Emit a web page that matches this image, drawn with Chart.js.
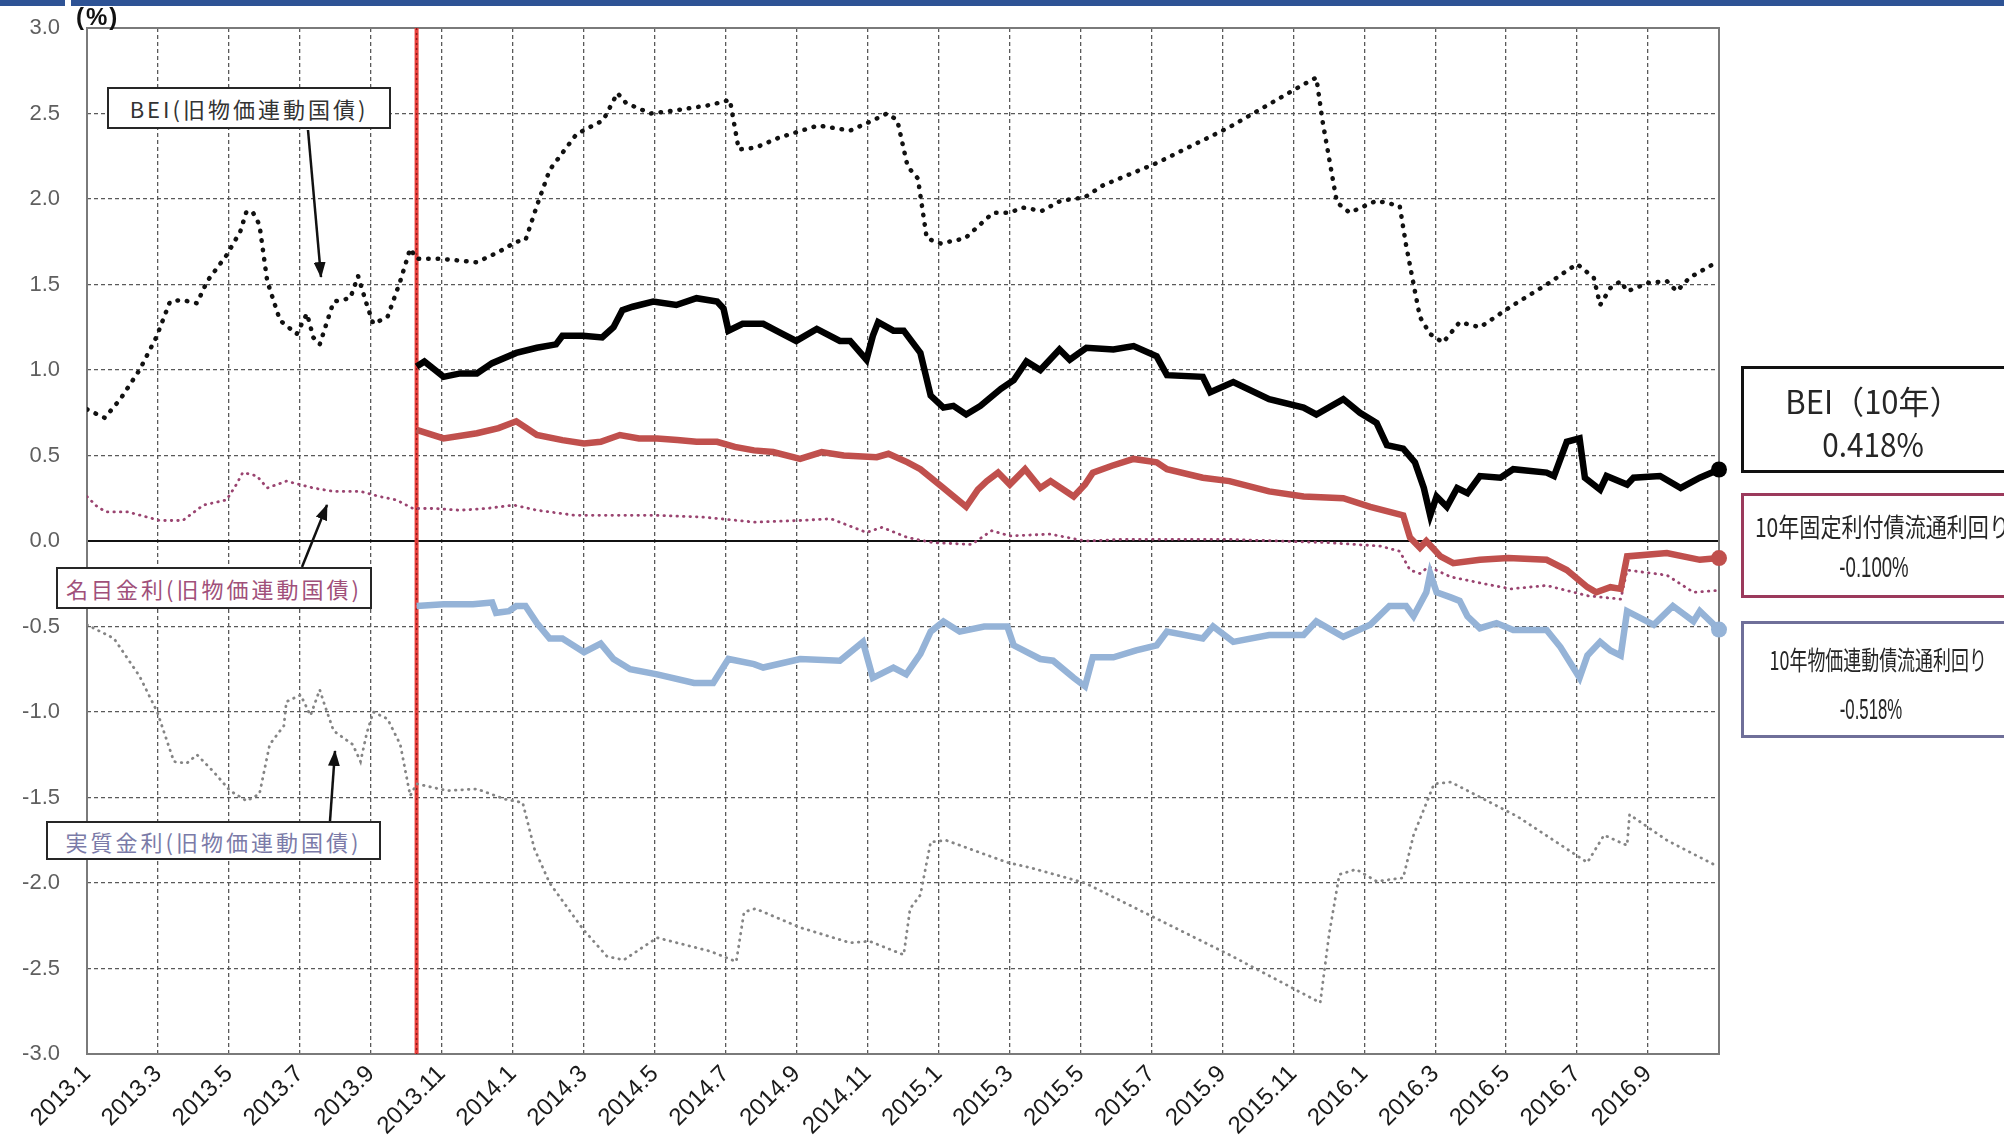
<!DOCTYPE html>
<html><head><meta charset="utf-8">
<script src="https://cdn.jsdelivr.net/npm/chart.js@4.4.1/dist/chart.umd.min.js"></script>
<style>
html,body{margin:0;padding:0;background:#fff;overflow:hidden;}
#wrap{position:relative;width:2004px;height:1147px;overflow:hidden;background:#fff;}
#c{position:absolute;left:0;top:0;}
.band{position:absolute;top:0;height:6px;background:#2E5395;}
.box{position:absolute;background:#fff;box-sizing:border-box;font-family:"Noto Sans CJK JP","Noto Sans",sans-serif;}
.lbox{border:2.5px solid #262626;display:flex;align-items:center;justify-content:center;white-space:nowrap;font-size:22px;letter-spacing:3px;}
.rbox{border:3.5px solid #111;color:#262626;}
.line{position:absolute;left:0;width:100%;text-align:center;white-space:nowrap;transform-origin:50% 50%;line-height:1;}
.val{font-family:"Liberation Sans",Arial,sans-serif;}
#pct{position:absolute;left:76px;top:5px;font-family:"Liberation Sans",Arial,sans-serif;font-size:24px;font-weight:bold;color:#111;letter-spacing:2px;line-height:1;}
svg{position:absolute;left:0;top:0;}
</style></head><body>
<div id="wrap">
<canvas id="c" width="2004" height="1147"></canvas>
<div class="band" style="left:0;width:65px"></div>
<div class="band" style="left:71px;width:1933px"></div>
<div id="pct">(%)</div>

<div class="box lbox" style="left:107px;top:87px;width:284px;height:42px;color:#333;">BEI(旧物価連動国債)</div>
<div class="box lbox" style="left:56px;top:567px;width:316px;height:42px;color:#a0507a;">名目金利(旧物価連動国債)</div>
<div class="box lbox" style="left:46px;top:821px;width:335px;height:39px;color:#7b7ba8;">実質金利(旧物価連動国債)</div>

<div class="box rbox" style="left:1741px;top:366px;width:300px;height:107px;border-color:#111;">
  <div class="line" style="top:15px;left:-18px;font-size:32px;transform:scaleX(0.97)">BEI（10年）</div>
  <div class="line" style="top:58px;left:-18px;font-size:33px;transform:scaleX(0.9)">0.418%</div>
</div>
<div class="box rbox" style="left:1741px;top:493px;width:300px;height:105px;border-color:#9b3a5c;">
  <div class="line" style="top:17px;left:-17px;font-size:26px;transform:scaleX(0.81)">10年固定利付債流通利回り</div>
  <div class="line val" style="top:56px;left:-17px;font-size:30px;transform:scaleX(0.62)">-0.100%</div>
</div>
<div class="box rbox" style="left:1741px;top:621px;width:300px;height:117px;border-color:#6f6f99;">
  <div class="line" style="top:22px;left:-20px;font-size:26px;transform:scaleX(0.69)">10年物価連動債流通利回り</div>
  <div class="line val" style="top:70px;left:-20px;font-size:30px;transform:scaleX(0.56)">-0.518%</div>
</div>

<svg width="2004" height="1147">
  <defs><marker id="ah" markerWidth="16" markerHeight="12" refX="15" refY="6" orient="auto" markerUnits="userSpaceOnUse"><path d="M0,0 L16,6 L0,12 z" fill="#111"/></marker></defs>
  <line x1="308" y1="130" x2="321" y2="277" stroke="#111" stroke-width="2.5" marker-end="url(#ah)"/>
  <line x1="302" y1="567" x2="327" y2="505" stroke="#111" stroke-width="2.5" marker-end="url(#ah)"/>
  <line x1="330" y1="821" x2="335" y2="751" stroke="#111" stroke-width="2.5" marker-end="url(#ah)"/>
</svg>
</div>
<script>
// x values: months since 2013.1 (0 = 2013.1, 46 = 2016.11)
const xTickLabels = ['2013.1','2013.3','2013.5','2013.7','2013.9','2013.11','2014.1','2014.3','2014.5','2014.7','2014.9','2014.11','2015.1','2015.3','2015.5','2015.7','2015.9','2015.11','2016.1','2016.3','2016.5','2016.7','2016.9'];
const jgbiStart = 9.29; // new inflation-indexed JGB (2013.10)

// BEI(旧物価連動国債)
const beiOldT = [0.00,0.50,0.94,1.48,1.95,2.34,2.67,3.10,3.39,3.93,4.32,4.50,4.68,4.86,5.08,5.44,5.91,6.20,6.38,6.56,6.95,7.42,7.64,7.89,8.07,8.47,8.83,9.11,9.29,9.98,10.99,11.60,12.10,12.36,12.68,13.04,13.80,14.55,14.95,15.20,15.89,16.64,17.58,18.12,18.37,18.84,19.52,20.61,21.51,22.05,22.55,22.84,23.13,23.42,23.67,24.06,24.75,25.54,26.01,26.37,26.91,27.45,28.13,28.64,30.15,32.20,34.29,34.65,34.83,35.23,35.59,36.35,37.00,37.18,37.43,37.57,37.86,38.22,38.69,39.26,40.20,41.14,42.00,42.47,42.65,42.94,43.23,43.41,44.02,44.53,44.81,45.17,45.93];
const beiOldV = [0.77,0.72,0.83,1.00,1.19,1.40,1.41,1.39,1.52,1.67,1.81,1.93,1.92,1.85,1.52,1.29,1.21,1.33,1.19,1.15,1.40,1.42,1.55,1.38,1.27,1.31,1.52,1.71,1.65,1.65,1.63,1.69,1.75,1.76,1.96,2.17,2.38,2.46,2.62,2.56,2.50,2.52,2.55,2.58,2.29,2.30,2.36,2.43,2.40,2.45,2.50,2.46,2.19,2.12,1.77,1.74,1.77,1.92,1.92,1.95,1.93,1.99,2.01,2.08,2.21,2.42,2.67,2.71,2.45,1.98,1.92,1.99,1.96,1.73,1.46,1.31,1.21,1.16,1.28,1.25,1.38,1.50,1.62,1.54,1.38,1.48,1.52,1.46,1.51,1.52,1.46,1.54,1.63];

// 名目金利(旧物価連動国債)
const nomOldT = [0.00,0.29,0.54,1.15,2.05,2.70,3.28,3.93,4.18,4.39,4.61,4.79,5.08,5.62,6.38,6.95,7.71,8.25,8.72,9.19,9.80,10.52,11.24,12.03,12.68,13.76,14.84,16.07,17.36,18.84,20.10,20.97,21.97,22.41,23.13,23.85,24.93,25.50,26.01,27.16,28.13,29.25,30.69,32.13,33.57,35.01,36.46,37.00,37.29,37.57,37.82,38.44,39.38,40.13,41.14,42.29,43.23,43.41,44.53,45.28,45.93];
const nomOldV = [0.26,0.20,0.17,0.17,0.12,0.12,0.21,0.24,0.32,0.40,0.39,0.38,0.31,0.35,0.31,0.29,0.29,0.26,0.24,0.19,0.19,0.18,0.19,0.21,0.18,0.15,0.15,0.15,0.14,0.11,0.12,0.13,0.05,0.08,0.02,-0.01,-0.02,0.06,0.03,0.04,0.00,0.01,0.01,0.01,0.00,-0.01,-0.03,-0.06,-0.17,-0.19,-0.15,-0.21,-0.25,-0.28,-0.26,-0.32,-0.34,-0.17,-0.20,-0.30,-0.29];

// 実質金利(旧物価連動国債)
const realOldT = [0.00,0.76,1.48,1.98,2.45,2.81,3.10,3.57,4.03,4.50,4.86,5.15,5.55,5.62,6.02,6.30,6.56,6.70,6.95,7.49,7.71,7.89,8.07,8.47,8.83,9.11,9.29,10.16,10.99,11.78,12.28,12.61,13.04,13.98,14.66,15.13,16.07,17.58,18.30,18.52,18.84,20.10,21.51,22.05,23.02,23.20,23.49,23.78,24.21,25.94,26.58,28.13,32.20,34.76,35.01,35.30,35.77,36.35,37.10,37.39,37.97,38.44,40.31,42.29,42.76,43.41,43.48,44.53,45.93];
const realOldV = [-0.49,-0.57,-0.79,-1.00,-1.29,-1.30,-1.25,-1.35,-1.46,-1.52,-1.48,-1.19,-1.08,-0.94,-0.90,-1.02,-0.87,-0.96,-1.11,-1.19,-1.29,-1.12,-1.00,-1.04,-1.19,-1.49,-1.42,-1.46,-1.45,-1.51,-1.53,-1.80,-2.00,-2.27,-2.43,-2.45,-2.32,-2.40,-2.46,-2.17,-2.15,-2.26,-2.35,-2.34,-2.42,-2.15,-2.07,-1.76,-1.75,-1.88,-1.91,-2.00,-2.42,-2.70,-2.30,-1.95,-1.92,-1.99,-1.97,-1.72,-1.42,-1.41,-1.61,-1.88,-1.72,-1.78,-1.60,-1.75,-1.90];

// BEI(10年)
const bei10T = [9.29,9.51,10.05,10.52,10.99,11.42,12.10,12.68,13.22,13.40,13.98,14.52,14.84,15.09,15.38,15.96,16.61,17.18,17.76,17.94,18.08,18.48,19.06,19.52,19.99,20.57,21.22,21.51,21.97,22.15,22.30,22.73,23.02,23.49,23.78,24.14,24.42,24.78,25.18,25.76,26.12,26.48,26.87,27.41,27.70,28.17,28.93,29.50,30.15,30.44,31.45,31.66,32.31,33.32,34.29,34.65,35.41,35.88,36.35,36.64,37.10,37.43,37.68,37.86,38.04,38.33,38.62,38.91,39.26,39.84,40.20,41.14,41.35,41.71,42.07,42.22,42.65,42.83,43.41,43.59,44.34,44.92,45.46,46.00];
const bei10V = [1.02,1.05,0.96,0.98,0.98,1.04,1.10,1.13,1.15,1.20,1.20,1.19,1.25,1.35,1.37,1.40,1.38,1.42,1.40,1.36,1.23,1.27,1.27,1.22,1.17,1.24,1.17,1.17,1.06,1.20,1.28,1.23,1.23,1.10,0.85,0.78,0.79,0.74,0.79,0.89,0.94,1.05,1.00,1.12,1.06,1.13,1.12,1.14,1.08,0.97,0.96,0.87,0.93,0.83,0.78,0.74,0.83,0.75,0.69,0.56,0.54,0.46,0.31,0.15,0.26,0.20,0.31,0.28,0.38,0.37,0.42,0.40,0.38,0.58,0.60,0.37,0.30,0.38,0.33,0.37,0.38,0.31,0.37,0.418];

// 10年固定利付債流通利回り
const nom10T = [9.29,10.05,10.99,11.60,12.10,12.68,13.40,14.01,14.48,15.02,15.56,16.07,16.64,17.18,17.76,18.26,18.80,19.34,20.10,20.71,21.33,22.26,22.59,23.13,23.49,24.14,24.78,25.11,25.36,25.68,26.01,26.44,26.87,27.16,27.81,28.13,28.35,28.89,29.50,30.15,30.44,31.45,32.20,33.32,34.29,35.41,36.17,37.10,37.29,37.57,37.75,38.15,38.51,39.26,40.06,41.14,41.71,42.29,42.54,42.94,43.23,43.41,44.53,45.46,46.00];
const nom10V = [0.65,0.60,0.63,0.66,0.70,0.62,0.59,0.57,0.58,0.62,0.60,0.60,0.59,0.58,0.58,0.55,0.53,0.52,0.48,0.52,0.50,0.49,0.51,0.46,0.42,0.31,0.20,0.30,0.35,0.40,0.33,0.42,0.31,0.35,0.26,0.33,0.40,0.44,0.48,0.46,0.42,0.37,0.35,0.29,0.26,0.25,0.20,0.15,0.02,-0.04,0.00,-0.09,-0.13,-0.11,-0.10,-0.11,-0.17,-0.27,-0.30,-0.27,-0.28,-0.09,-0.07,-0.11,-0.10];

// 10年物価連動債流通利回り
const real10T = [9.29,10.05,10.88,11.42,11.53,11.89,12.10,12.36,12.68,13.04,13.40,14.01,14.48,14.84,15.31,16.07,17.11,17.65,18.08,18.80,19.06,20.10,21.22,21.87,22.15,22.73,23.09,23.49,23.78,24.14,24.60,25.29,25.94,26.12,26.87,27.23,27.81,28.13,28.35,28.93,29.57,30.15,30.44,31.45,31.74,32.31,33.32,34.29,34.65,35.41,36.17,36.71,37.18,37.39,37.75,37.86,38.04,38.44,38.69,38.91,39.26,39.73,40.20,41.14,41.53,42.07,42.29,42.65,42.94,43.23,43.41,44.16,44.70,45.28,45.46,46.00];
const real10V = [-0.38,-0.37,-0.37,-0.36,-0.42,-0.41,-0.38,-0.38,-0.48,-0.57,-0.57,-0.65,-0.60,-0.69,-0.75,-0.78,-0.83,-0.83,-0.69,-0.72,-0.74,-0.69,-0.70,-0.59,-0.80,-0.74,-0.78,-0.66,-0.53,-0.47,-0.53,-0.50,-0.50,-0.61,-0.69,-0.70,-0.80,-0.85,-0.68,-0.68,-0.64,-0.61,-0.53,-0.57,-0.50,-0.59,-0.55,-0.55,-0.47,-0.56,-0.49,-0.38,-0.38,-0.44,-0.30,-0.19,-0.30,-0.33,-0.35,-0.44,-0.51,-0.48,-0.52,-0.52,-0.62,-0.80,-0.67,-0.59,-0.64,-0.67,-0.41,-0.49,-0.38,-0.47,-0.41,-0.518];

const pts = (t, v) => t.map((x, i) => ({x, y: v[i]}));
const endDot = (ctx) => ctx.dataIndex === ctx.dataset.data.length - 1 ? 8 : 0;

const decor = {
  id: 'decor',
  beforeDatasetsDraw(chart) {
    const {ctx, chartArea: a, scales: {x, y}} = chart;
    ctx.save();
    const y0 = y.getPixelForValue(0);
    ctx.strokeStyle = '#111'; ctx.lineWidth = 2.2; ctx.setLineDash([]);
    ctx.beginPath(); ctx.moveTo(a.left, y0); ctx.lineTo(a.right, y0); ctx.stroke();
    ctx.strokeStyle = '#7a7a7a'; ctx.lineWidth = 2;
    ctx.strokeRect(a.left, a.top, a.right - a.left, a.bottom - a.top);
    const xr = x.getPixelForValue(jgbiStart);
    ctx.strokeStyle = '#e8403c'; ctx.lineWidth = 4;
    ctx.beginPath(); ctx.moveTo(xr, a.top); ctx.lineTo(xr, a.bottom); ctx.stroke();
    ctx.strokeStyle = '#8a1a1a'; ctx.lineWidth = 1.4; ctx.setLineDash([2, 3]);
    ctx.beginPath(); ctx.moveTo(xr, a.top); ctx.lineTo(xr, a.bottom); ctx.stroke();
    ctx.restore();
  }
};

Chart.defaults.font.family = "'Liberation Sans', Arial, sans-serif";

new Chart(document.getElementById('c'), {
  type: 'line',
  data: {
    datasets: [
      {label: 'BEI(10年)', data: pts(bei10T, bei10V), borderColor: '#000', backgroundColor: '#000', borderWidth: 6.5, pointRadius: endDot, pointBackgroundColor: '#000', pointBorderWidth: 0, tension: 0, clip: 12},
      {label: '10年固定利付債流通利回り', data: pts(nom10T, nom10V), borderColor: '#c0504d', backgroundColor: '#c0504d', borderWidth: 6.5, pointRadius: endDot, pointBackgroundColor: '#c0504d', pointBorderWidth: 0, tension: 0, clip: 12},
      {label: '10年物価連動債流通利回り', data: pts(real10T, real10V), borderColor: '#95b3d7', backgroundColor: '#95b3d7', borderWidth: 6.5, pointRadius: endDot, pointBackgroundColor: '#95b3d7', pointBorderWidth: 0, tension: 0, clip: 12},
      {label: 'BEI(旧物価連動国債)', data: pts(beiOldT, beiOldV), borderColor: '#111', borderWidth: 4.5, borderDash: [0.5, 9], borderCapStyle: 'round', pointRadius: 0, tension: 0},
      {label: '名目金利(旧物価連動国債)', data: pts(nomOldT, nomOldV), borderColor: '#9a4470', borderWidth: 2.8, borderDash: [0.5, 6], borderCapStyle: 'round', pointRadius: 0, tension: 0},
      {label: '実質金利(旧物価連動国債)', data: pts(realOldT, realOldV), borderColor: '#858585', borderWidth: 2.8, borderDash: [0.5, 6], borderCapStyle: 'round', pointRadius: 0, tension: 0}
    ]
  },
  options: {
    responsive: false,
    animation: false,
    devicePixelRatio: 1,
    layout: {padding: {left: 0, right: 285, top: 28, bottom: 0}},
    plugins: {legend: {display: false}, tooltip: {enabled: false}},
    scales: {
      x: {
        type: 'linear', min: 0, max: 46,
        afterFit: (s) => { s.height = 93; s.paddingLeft = 0; s.paddingRight = 0; },
        ticks: {stepSize: 2, autoSkip: false, maxRotation: 45, minRotation: 45, padding: 6,
          color: '#1a1a1a', font: {size: 24},
          callback: (v) => (v % 2 === 0 && xTickLabels[v / 2] !== undefined) ? xTickLabels[v / 2] : ''},
        grid: {color: '#5a5a5a', lineWidth: 1.3, drawTicks: false},
        border: {display: false, dash: [4, 3]}
      },
      y: {
        type: 'linear', min: -3, max: 3,
        afterFit: (s) => { s.width = 87; s.paddingTop = 0; s.paddingBottom = 0; },
        ticks: {stepSize: 0.5, padding: 27, color: '#5f5f5f', font: {size: 22},
          callback: (v) => v.toFixed(1)},
        grid: {color: '#5a5a5a', lineWidth: 1.3, drawTicks: false},
        border: {display: false, dash: [4, 3]}
      }
    }
  },
  plugins: [decor]
});
</script>
</body></html>
